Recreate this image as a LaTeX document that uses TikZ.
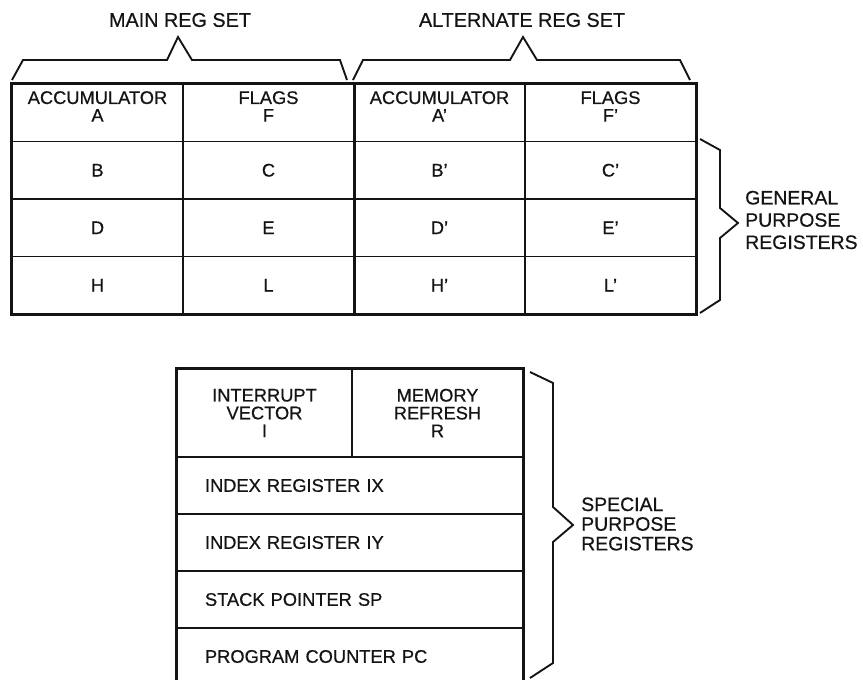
\documentclass[tikz,border=0pt]{standalone}
\usepackage{fontspec}
\setmainfont{Liberation Sans}[FakeBold=0.6]
\usepackage{tikz}
\usetikzlibrary{calc}
\definecolor{cInk}{HTML}{141414}
\newcommand{\regfont}{\fontsize{15.6}{14.6}\selectfont}
\newcommand{\setfont}{\fontsize{16.9}{17}\selectfont}
\newcommand{\sidefont}{\fontsize{16.6}{16.8}\selectfont}
\tikzset{
  reg/.style   = {draw=cInk, line width=1.6pt, inner sep=0pt, align=center,
                  minimum width=5.13cm, minimum height=1.725cm,
                  font=\regfont, text=cInk},
  wide/.style  = {reg, minimum width=10.38cm, minimum height=1.71cm,
                  text width=8.7cm, align=left},
  txt/.style   = {inner sep=0pt, align=center, font=\regfont, text=cInk},
  side/.style  = {txt, anchor=west, align=left, font=\sidefont},
  frame/.style = {draw=cInk, line width=2.4pt},
  brace/.style = {draw=cInk, line width=1.6pt, line join=miter},
}

\begin{document}
\begin{tikzpicture}
  \clip (0,0) rectangle (25.89,-20.37);
  % main and alternate sets
  \node[reg] (rA)  at (2.925,-3.3825) {};
  \node[reg] (rF)  at (8.055,-3.3825) {};
  \node[reg] (rAp) at (13.185,-3.3825) {};
  \node[reg] (rFp) at (18.315,-3.3825) {};
  \node[reg] (rB)  at (2.925,-5.1075) {B};
  \node[reg] (rC)  at (8.055,-5.1075) {C};
  \node[reg] (rBp) at (13.185,-5.1075) {B'};
  \node[reg] (rCp) at (18.315,-5.1075) {C'};
  \node[reg] (rD)  at (2.925,-6.8325) {D};
  \node[reg] (rE)  at (8.055,-6.8325) {E};
  \node[reg] (rDp) at (13.185,-6.8325) {D'};
  \node[reg] (rEp) at (18.315,-6.8325) {E'};
  \node[reg] (rH)  at (2.925,-8.5575) {H};
  \node[reg] (rL)  at (8.055,-8.5575) {L};
  \node[reg] (rHp) at (13.185,-8.5575) {H'};
  \node[reg] (rLp) at (18.315,-8.5575) {L'};
  \node[txt] (tA)  at ($(rA)+(0,0.19)$)  {ACCUMULATOR\\[0.5pt]A};
  \node[txt] (tF)  at ($(rF)+(0,0.19)$)  {FLAGS\\[0.5pt]F};
  \node[txt] (tAp) at ($(rAp)+(0,0.19)$) {ACCUMULATOR\\[0.5pt]A'};
  \node[txt] (tFp) at ($(rFp)+(0,0.19)$) {FLAGS\\[0.5pt]F'};
  \draw[frame] (rA.north west) rectangle (rLp.south east);
  \draw[frame] (rF.north east) -- (rL.south east);
  % braces over the two sets
  \draw[brace] (0.36,-2.4) -- (0.69,-1.8) -- (5.01,-1.8) -- (5.34,-1.11)
               -- (5.76,-1.8) -- (10.2,-1.8) -- (10.41,-2.4);
  \draw[brace] (10.59,-2.4) -- (10.89,-1.8) -- (15.3,-1.8) -- (15.69,-1.11)
               -- (16.11,-1.8) -- (20.4,-1.8) -- (20.7,-2.4);
  \node[txt, font=\setfont] (mainset) at (5.40,-0.6)  {MAIN REG SET};
  \node[txt, font=\setfont] (altset)  at (15.66,-0.6) {ALTERNATE REG SET};
  \draw[brace] (21.0,-4.17) -- (21.6,-4.5) -- (21.6,-6.24) -- (22.14,-6.69)
               -- (21.6,-7.14) -- (21.6,-9.0) -- (21.0,-9.39);
  \node[side] (gpr) at (22.35,-6.6)
       {GENERAL\\[2.2pt]PURPOSE\\[2.2pt]REGISTERS};
  % special purpose registers
  \node[reg, minimum width=5.25cm, minimum height=2.64cm] (rI) at (7.935,-12.39)
       {INTERRUPT\\[0.6pt]VECTOR\\[0.6pt]I};
  \node[reg, minimum height=2.64cm] (rR) at (13.125,-12.39)
       {MEMORY\\[0.6pt]REFRESH\\[0.6pt]R};
  \node[wide] (rIX) at (10.5,-14.565) {INDEX REGISTER IX};
  \node[wide] (rIY) at (10.5,-16.275) {INDEX REGISTER IY};
  \node[wide] (rSP) at (10.5,-17.985) {STACK POINTER SP};
  \node[wide] (rPC) at (10.5,-19.695) {PROGRAM COUNTER PC};
  \draw[frame] (rI.north west) rectangle (rPC.south east);
  \draw[brace] (15.9,-11.16) -- (16.59,-11.49) -- (16.59,-15.21) -- (17.19,-15.75)
               -- (16.59,-16.26) -- (16.59,-19.89) -- (15.9,-20.34);
  \node[side] (spr) at (17.43,-15.72)
       {SPECIAL\\PURPOSE\\REGISTERS};
\end{tikzpicture}
\end{document}
